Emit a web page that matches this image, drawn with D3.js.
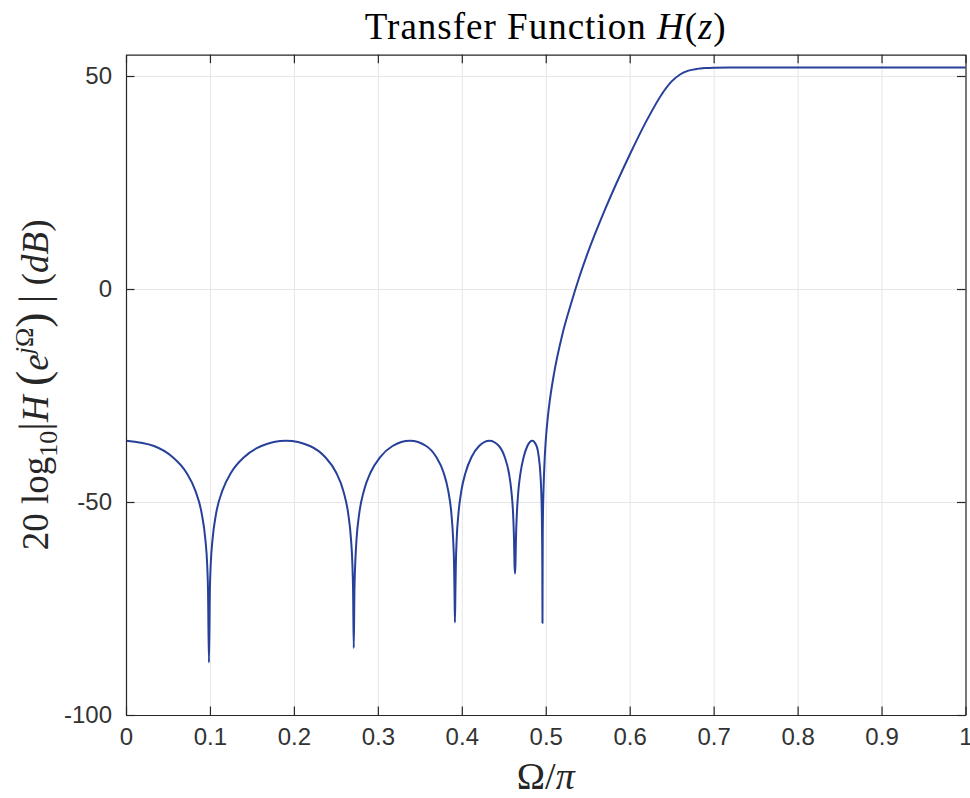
<!DOCTYPE html>
<html>
<head>
<meta charset="utf-8">
<script src="https://cdn.jsdelivr.net/npm/d3@7"></script>
<style>
  html, body { margin: 0; padding: 0; background: #ffffff; }
  svg { display: block; }
</style>
</head>
<body>
<svg id="chart" width="970" height="798"></svg>
<script>
// ---- data ----
const omega = [
  0.0000, 0.0333, 0.0554, 0.0718, 0.0826, 0.0902, 0.0945, 0.0967, 0.0977, 0.0988,
  0.0999, 0.1009, 0.1031, 0.1073, 0.1148, 0.1253, 0.1409, 0.1612, 0.1908,
  0.2191, 0.2371, 0.2503, 0.2588, 0.2647, 0.2680, 0.2697, 0.2705, 0.2713,
  0.2721, 0.2730, 0.2746, 0.2778, 0.2834, 0.2913, 0.3028, 0.3175, 0.3383,
  0.3576, 0.3696, 0.3783, 0.3838, 0.3876, 0.3897, 0.3908, 0.3913, 0.3918,
  0.3924, 0.3929, 0.3939, 0.3960, 0.3995, 0.4045, 0.4116, 0.4206, 0.4330,
  0.4443, 0.4511, 0.4560, 0.4590, 0.4611, 0.4622, 0.4628, 0.4634,
  0.4639, 0.4645, 0.4656, 0.4674, 0.4700, 0.4737, 0.4781, 0.4840,
  0.4890, 0.4917, 0.4935, 0.4946, 0.4953, 0.4957, 0.4959, 0.4960, 0.4961,
  0.4962, 0.4963, 0.4964, 0.4967, 0.4973, 0.4980, 0.4988, 0.4996, 0.5000,
  0.5010, 0.5025, 0.5050, 0.5100, 0.5200, 0.5300, 0.5400, 0.5500, 0.5700,
  0.6000, 0.6200, 0.6400, 0.6500, 0.6600, 0.6700, 0.6800, 0.6900, 0.7000,
  0.7200, 0.7500, 0.8000, 0.9000, 1.0000
];
const magDb = [
  -35.60, -36.85, -39.44, -43.08, -47.34, -52.73, -58.73, -64.74, -70.76, -87.70,
  -70.76, -64.74, -58.73, -52.73, -47.34, -43.08, -39.44, -36.85, -35.60,
  -36.85, -39.44, -43.08, -47.34, -52.73, -58.73, -64.74, -70.76, -84.30,
  -70.76, -64.74, -58.73, -52.73, -47.34, -43.08, -39.44, -36.85, -35.60,
  -36.85, -39.44, -43.08, -47.34, -52.73, -58.73, -64.74, -70.76, -78.30,
  -70.76, -64.74, -58.73, -52.73, -47.34, -43.08, -39.44, -36.85, -35.60,
  -36.85, -39.44, -43.08, -47.34, -52.73, -58.73, -64.74, -66.80,
  -64.74, -58.73, -52.73, -47.34, -43.08, -39.44, -36.85, -35.60,
  -36.85, -39.44, -43.08, -47.34, -52.73, -58.73, -64.74, -70.76, -78.40,
  -70.76, -64.74, -58.73, -52.73, -47.34, -43.08, -39.44, -36.85, -35.60,
  -33.11, -30.03, -25.94, -19.68, -10.49, -3.53, 2.81, 8.46, 18.38,
  31.52, 39.47, 46.25, 48.73, 50.35, 51.25, 51.67, 51.86, 51.94,
  51.99, 52.00, 52.00, 52.00, 52.00
];
const xTicks = [0, 0.1, 0.2, 0.3, 0.4, 0.5, 0.6, 0.7, 0.8, 0.9, 1];
const xTickLabels = ["0", "0.1", "0.2", "0.3", "0.4", "0.5", "0.6", "0.7", "0.8", "0.9", "1"];
const yTicks = [-100, -50, 0, 50];
const yTickLabels = ["-100", "-50", "0", "50"];
const xDomain = [0, 1];
const yDomain = [-100, 55];

// ---- layout ----
const W = 970, H = 798;
const margin = { left: 126, right: 4.5, top: 54.7, bottom: 83 };
const pw = W - margin.left - margin.right;
const ph = H - margin.top - margin.bottom;
const axisColor = "#262626";
const gridColor = "#e6e6e6";
const lineColor = "#27409a";
const tickFont = "'Liberation Sans', Arial, Helvetica, sans-serif";
const texFont = "'Liberation Serif', 'Times New Roman', serif";

const svg = d3.select("#chart");
const g = svg.append("g").attr("transform", `translate(${margin.left},${margin.top})`);

const x = d3.scaleLinear().domain(xDomain).range([0, pw]);
const y = d3.scaleLinear().domain(yDomain).range([ph, 0]);

// grid
g.append("g").attr("class", "grid")
  .call(d3.axisBottom(x).tickValues(xTicks).tickSize(ph).tickFormat(""))
  .call(s => s.select(".domain").remove())
  .call(s => s.selectAll("line").attr("stroke", gridColor).attr("stroke-width", 1));
g.append("g").attr("class", "grid")
  .call(d3.axisLeft(y).tickValues(yTicks).tickSize(-pw).tickFormat(""))
  .call(s => s.select(".domain").remove())
  .call(s => s.selectAll("line").attr("stroke", gridColor).attr("stroke-width", 1));

// curve
const pts = omega.map((o, i) => [o, magDb[i]]);
g.append("path")
  .datum(pts)
  .attr("fill", "none")
  .attr("stroke", lineColor)
  .attr("stroke-width", 2)
  .attr("stroke-linejoin", "round")
  .attr("d", d3.line().curve(d3.curveMonotoneX).x(d => x(d[0])).y(d => y(d[1])));

// axes (inward ticks on all sides)
const tickLen = 8.5;
function styleAxis(s) {
  s.select(".domain").attr("stroke", axisColor).attr("stroke-width", 1.2);
  s.selectAll(".tick line").attr("stroke", axisColor).attr("stroke-width", 1.2);
  s.selectAll(".tick text").attr("fill", "#333333")
    .style("font-family", tickFont).style("font-size", "24px");
}
g.append("g").attr("transform", `translate(0,${ph})`)
  .call(d3.axisBottom(x).tickValues(xTicks).tickSize(-tickLen).tickSizeOuter(0)
    .tickPadding(13).tickFormat((d, i) => xTickLabels[i]))
  .call(styleAxis);
g.append("g")
  .call(d3.axisLeft(y).tickValues(yTicks).tickSize(-tickLen).tickSizeOuter(0)
    .tickPadding(14).tickFormat((d, i) => yTickLabels[i]))
  .call(styleAxis);
g.append("g")
  .call(d3.axisTop(x).tickValues(xTicks).tickSize(-tickLen).tickSizeOuter(0).tickFormat(""))
  .call(styleAxis);
g.append("g").attr("transform", `translate(${pw},0)`)
  .call(d3.axisRight(y).tickValues(yTicks).tickSize(-tickLen).tickSizeOuter(0).tickFormat(""))
  .call(styleAxis);

// title
const title = svg.append("text")
  .attr("x", margin.left + pw / 2).attr("y", 39)
  .attr("text-anchor", "middle")
  .style("font-family", texFont).style("font-size", "37px")
  .style("letter-spacing", "1px").attr("fill", "#000");
title.append("tspan").text("Transfer Function ");
title.append("tspan").attr("font-style", "italic").text("H");
title.append("tspan").text("(");
title.append("tspan").attr("font-style", "italic").text("z");
title.append("tspan").text(")");

// x label
const xl = svg.append("text")
  .attr("x", margin.left + pw / 2).attr("y", 789)
  .attr("text-anchor", "middle")
  .style("font-family", texFont).style("font-size", "38px").attr("fill", "#262626");
xl.append("tspan").text("Ω/");
xl.append("tspan").attr("font-style", "italic").text("π");

// y label
const yl = svg.append("text")
  .attr("transform", `translate(48,${margin.top + ph / 2}) rotate(-90)`)
  .attr("text-anchor", "middle")
  .style("font-family", texFont).style("font-size", "37px").attr("fill", "#262626");
yl.append("tspan").text("20 log");
yl.append("tspan").attr("dy", 9).style("font-size", "26px").text("10");
yl.append("tspan").attr("dy", -9).style("font-size", "43px").text("|");
yl.append("tspan").attr("font-style", "italic").text("H");
yl.append("tspan").text(" ");
yl.append("tspan").style("font-size", "46px").text("(");
yl.append("tspan").attr("font-style", "italic").text("e");
yl.append("tspan").attr("dy", -15).style("font-size", "26px").attr("font-style", "italic").text("j");
yl.append("tspan").style("font-size", "26px").text("Ω");
yl.append("tspan").attr("dy", 15).style("font-size", "46px").text(")");
yl.append("tspan").text(" ");
yl.append("tspan").style("font-size", "43px").text("|");
yl.append("tspan").text(" (");
yl.append("tspan").attr("font-style", "italic").text("dB");
yl.append("tspan").text(")");
</script>
</body>
</html>
